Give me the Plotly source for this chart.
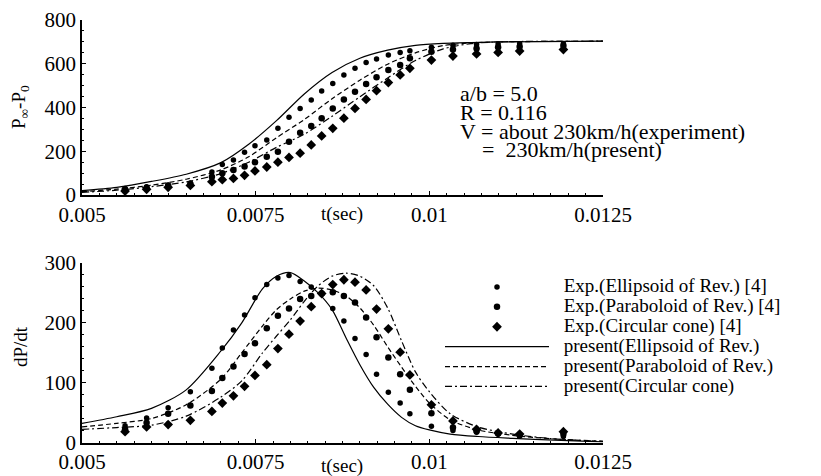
import plotly.graph_objects as go

# ---------------- data ----------------
# experimental sample times (s)
t_exp = [0.00562, 0.00593, 0.00624, 0.00656, 0.00687, 0.00702, 0.00718, 0.00734,
         0.00749, 0.00766, 0.00782, 0.00798, 0.00814, 0.00830, 0.00845, 0.00861,
         0.00877, 0.00893, 0.00909, 0.00924, 0.00941, 0.00958, 0.00972, 0.01003,
         0.01034, 0.01068, 0.01099, 0.01130, 0.01193]

# top panel: P_inf - P_0 (experiment)
p_exp_ellipsoid = [30, 38, 46, 55, 105, 140, 160, 195, 225, 251, 305, 355, 396, 434, 475,
                   510, 549, 579, 606, 622, 640, 651, 660, 676, 685, 688, 690, 691, 692]
p_exp_paraboloid = [25, 33, 42, 50, 84, 99, 114, 130, 150, 175, 198, 244, 285, 315, 351,
                    396, 437, 472, 507, 538, 571, 594, 625, 655, 665, 670, 675, 678, 682]
p_exp_cone = [18, 26, 35, 44, 61, 70, 76, 90, 110, 128, 150, 172, 191, 229, 270,
              305, 351, 396, 437, 477, 514, 549, 579, 617, 635, 645, 652, 658, 665]

# top panel: present (model) curves
t_model_top = [0.005, 0.0055, 0.006, 0.0065, 0.007, 0.0074, 0.0078, 0.0082, 0.0086,
               0.009, 0.0094, 0.0098, 0.0102, 0.0106, 0.011, 0.0125]
p_model_ellipsoid = [20, 35, 62, 95, 148, 232, 340, 462, 560, 625, 662, 684, 693, 697, 700, 703]
p_model_paraboloid = [15, 27, 45, 72, 115, 175, 262, 345, 440, 525, 598, 650, 683, 695, 700, 703]
p_model_cone = [12, 22, 38, 60, 98, 150, 218, 278, 360, 449, 535, 615, 668, 692, 700, 703]

# bottom panel: dP/dt (experiment)
d_exp_ellipsoid = [28, 41, 58, 85, 124, 158, 188, 213, 242, 264, 275, 279, 269, 260, 248,
                   224, 203, 174, 147, 114, 84, 66, 48, 27, 20, 17, 14, 11, 10]
d_exp_paraboloid = [22, 33, 48, 62, 86, 108, 127, 148, 166, 191, 212, 224, 240, 245, 249,
                    251, 245, 234, 209, 176, 142, 114, 88, 49, 25, 19, 15, 12, 14]
d_exp_cone = [18, 26, 30, 37, 52, 66, 78, 94, 112, 130, 157, 181, 203, 227, 249,
              264, 272, 268, 255, 223, 190, 151, 113, 63, 36, 22, 16, 14, 18]

# bottom panel: present (model) curves
t_model_bot = [0.005, 0.0055, 0.006, 0.0065, 0.007, 0.0073, 0.0076, 0.0078, 0.008, 0.0082,
               0.0084, 0.0086, 0.0088, 0.009, 0.0092, 0.0094, 0.0096, 0.0098, 0.01, 0.0103,
               0.0107, 0.0112, 0.0118, 0.0125]
d_model_ellipsoid = [32, 43, 57, 88, 153, 200, 257, 278, 284, 270, 250, 222, 175, 130,
                     92, 64, 42, 28, 21, 14, 10, 7, 4, 1]
d_model_paraboloid = [26, 32, 40, 63, 106, 150, 195, 222, 240, 253, 258, 255, 245, 225,
                      196, 160, 126, 94, 66, 38, 21, 12, 6, 2]
d_model_cone = [22, 25, 29, 44, 76, 103, 150, 178, 205, 236, 262, 278, 283, 278,
                262, 225, 170, 118, 85, 48, 26, 14, 6, 2]

x_ticks = [0.005, 0.0075, 0.01, 0.0125]
x_tick_text = ["0.005", "0.0075", "0.01", "0.0125"]
y_ticks_top = [0, 200, 400, 600, 800]
y_ticks_bot = [0, 100, 200, 300]

legend_names = ["Exp.(Ellipsoid of Rev.) [4]", "Exp.(Paraboloid of Rev.) [4]",
                "Exp.(Circular cone) [4]", "present(Ellipsoid of Rev.)",
                "present(Paraboloid of Rev.)", "present(Circular cone)"]

# ---------------- styling ----------------
FONT = "Liberation Serif, Times New Roman, serif"
markers = [dict(symbol="circle", size=5.5, color="black"),
           dict(symbol="circle", size=6.5, color="black"),
           dict(symbol="diamond", size=7.5, color="black")]
dashes = ["solid", "5px,3px", "7px,3px,2px,3px"]


def legend_label(name):
    return '\u00a0\u00a0\u00a0<span style="font-size:19px">' + name + "</span>"


fig = go.Figure()

# bottom panel traces (carry legend)
for vals, mk, name in zip([d_exp_ellipsoid, d_exp_paraboloid, d_exp_cone], markers, legend_names[:3]):
    fig.add_trace(go.Scatter(x=t_exp, y=vals, mode="markers", marker=mk, name=legend_label(name),
                             xaxis="x2", yaxis="y2", cliponaxis=False))
for vals, ds, name in zip([d_model_ellipsoid, d_model_paraboloid, d_model_cone], dashes, legend_names[3:]):
    fig.add_trace(go.Scatter(x=t_model_bot, y=vals, mode="lines", name=legend_label(name),
                             line=dict(color="black", width=1.2, dash=ds, shape="spline", smoothing=0.8),
                             xaxis="x2", yaxis="y2"))

# top panel traces
for vals, mk in zip([p_exp_ellipsoid, p_exp_paraboloid, p_exp_cone], markers):
    fig.add_trace(go.Scatter(x=t_exp, y=vals, mode="markers", marker=mk, showlegend=False,
                             xaxis="x", yaxis="y", cliponaxis=False))
for vals, ds in zip([p_model_ellipsoid, p_model_paraboloid, p_model_cone], dashes):
    fig.add_trace(go.Scatter(x=t_model_top, y=vals, mode="lines", showlegend=False,
                             line=dict(color="black", width=1.2, dash=ds, shape="spline", smoothing=0.8),
                             xaxis="x", yaxis="y"))

W, H = 821, 476
xdom = [82 / W, 603 / W]

axis_common = dict(showline=True, linecolor="black", linewidth=1.5, showgrid=False, zeroline=False,
                   automargin=False,
                   ticks="inside", ticklen=4, tickcolor="black", tickwidth=1,
                   tickfont=dict(family=FONT, size=21, color="black"))

fig.update_layout(
    width=W, height=H,
    margin=dict(l=0, r=0, t=0, b=0, autoexpand=False),
    paper_bgcolor="white", plot_bgcolor="white",
    font=dict(family=FONT, color="black"),
    xaxis=dict(domain=xdom, range=[0.005, 0.0125], anchor="y", tickvals=x_ticks, ticktext=x_tick_text,
               minor=dict(ticks="inside", ticklen=2, dtick=0.00025, tickcolor="black"), **axis_common),
    yaxis=dict(domain=[1 - 195 / H, 1 - 20 / H], range=[0, 800], anchor="x", tickvals=y_ticks_top,
               minor=dict(ticks="inside", ticklen=2, dtick=50, tickcolor="black"), **axis_common),
    xaxis2=dict(domain=xdom, range=[0.005, 0.0125], anchor="y2", tickvals=x_ticks, ticktext=x_tick_text,
                minor=dict(ticks="inside", ticklen=2, dtick=0.00025, tickcolor="black"), **axis_common),
    yaxis2=dict(domain=[1 - 442.5 / H, 1 - 263 / H], range=[0, 300], anchor="x2", tickvals=y_ticks_bot,
                minor=dict(ticks="inside", ticklen=2, dtick=20, tickcolor="black"), **axis_common),
    legend=dict(x=440 / W, y=1 - 272 / H, xanchor="left", yanchor="top", bgcolor="rgba(0,0,0,0)",
                font=dict(family=FONT, size=13, color="black"), itemwidth=104, tracegroupgap=0),
)

ann = []


def px_ann(text, x, y, size=18, angle=0, xanchor="center"):
    ann.append(dict(text=text, x=x / W, y=1 - y / H, xref="paper", yref="paper", showarrow=False,
                    textangle=angle, xanchor=xanchor, yanchor="middle",
                    font=dict(family=FONT, size=size, color="black")))


px_ann("P<sub>∞</sub>-P<sub>0</sub>", 20, 107, size=19, angle=-90)
px_ann("dP/dt", 20, 347, size=19, angle=-90)
px_ann("t(sec)", 342, 214, size=19)
px_ann("t(sec)", 342, 466, size=19)
px_ann("a/b = 5.0", 458, 94, size=22, xanchor="left")
px_ann("R = 0.116", 458, 112, size=22, xanchor="left")
px_ann("V = about 230km/h(experiment)", 458, 131, size=22, xanchor="left")
px_ann("=  230km/h(present)", 480, 149, size=22, xanchor="left")
fig.update_layout(annotations=ann)

fig.write_html("out.html",
               config={"displayModeBar": False},
               post_script="document.body.style.margin='0';document.body.style.overflow='hidden';")
